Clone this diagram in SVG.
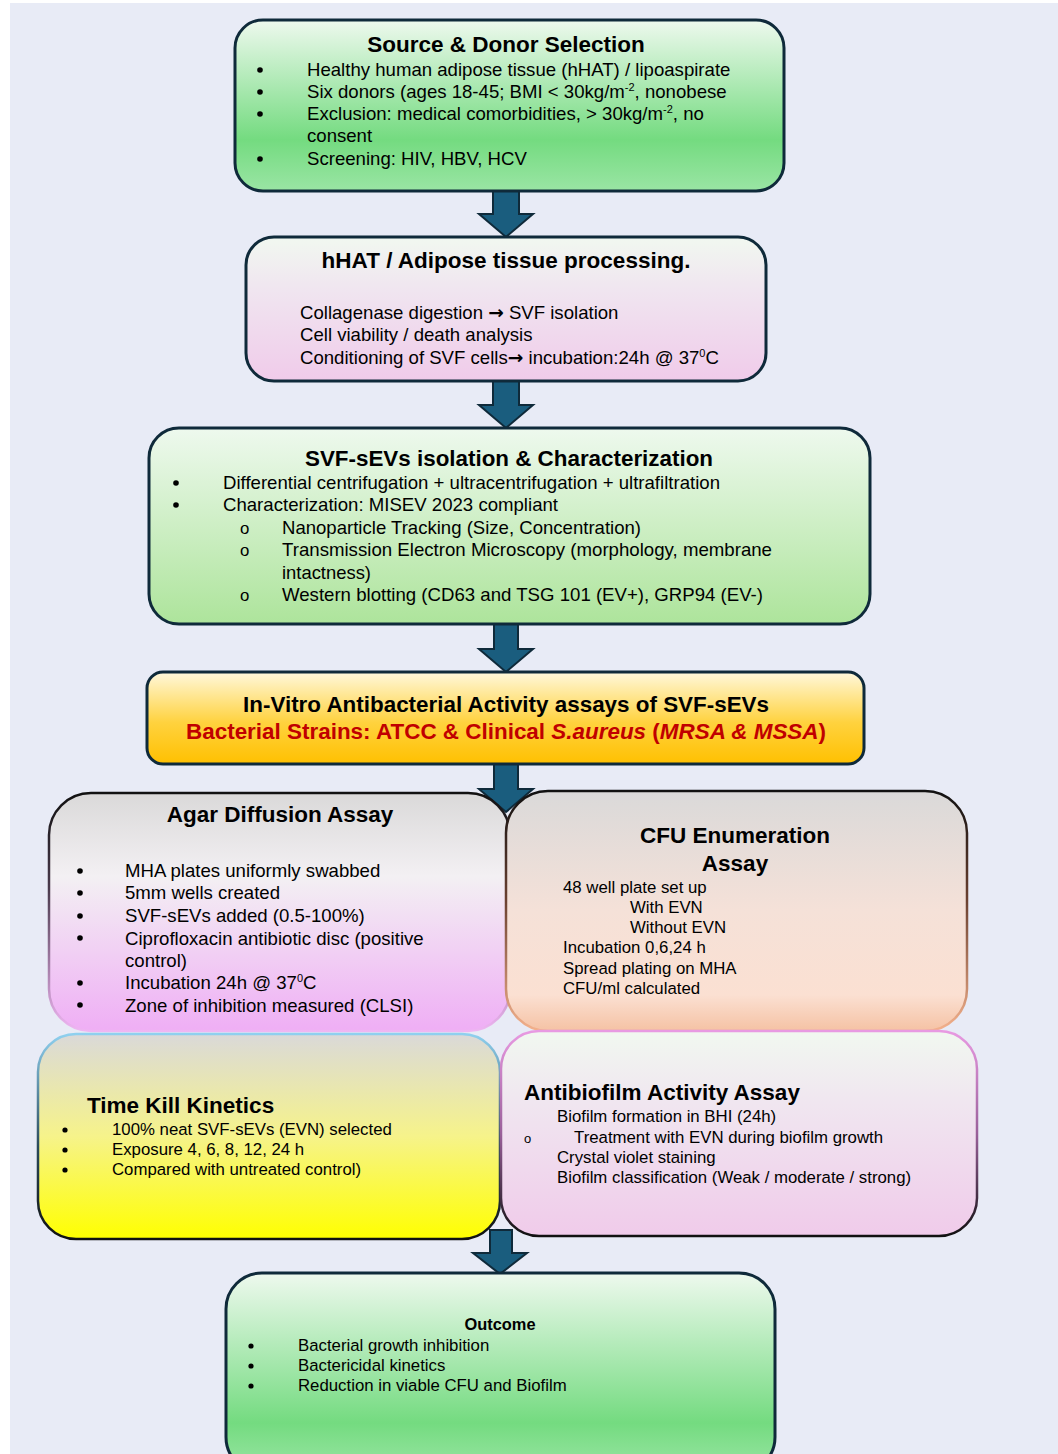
<svg xmlns="http://www.w3.org/2000/svg" width="1058" height="1454" viewBox="0 0 1058 1454">
<style>
text{font-family:"Liberation Sans",Arial,sans-serif;fill:#000}
.t{font-weight:bold;font-size:22.5px}
.b{font-size:18.6px}
.s{font-size:16.8px}
.ar{font-family:"DejaVu Sans",sans-serif;font-weight:bold}
.box{stroke:#0f2a3a;stroke-width:3}
.arr{fill:#1a5d7e;stroke:#0f2a3a;stroke-width:2;stroke-linejoin:miter}
.red{fill:#c00000}
</style>
<defs>
<linearGradient id="gGreen" x1="0" y1="0" x2="0" y2="1">
<stop offset="0" stop-color="#eef9ee"/><stop offset="0.7" stop-color="#74db80"/><stop offset="1" stop-color="#9ae5a4"/>
</linearGradient>
<linearGradient id="gGreen2" x1="0" y1="0" x2="0" y2="1">
<stop offset="0" stop-color="#eef9ee"/><stop offset="1" stop-color="#ade49b"/>
</linearGradient>
<linearGradient id="gGreen3" x1="0" y1="0" x2="0" y2="1">
<stop offset="0" stop-color="#eef9ee"/><stop offset="0.75" stop-color="#74db80"/><stop offset="1" stop-color="#9ae5a4"/>
</linearGradient>
<linearGradient id="gPink" x1="0" y1="0" x2="0" y2="1">
<stop offset="0" stop-color="#f1f8f0"/><stop offset="0.35" stop-color="#f0e6f0"/><stop offset="1" stop-color="#f0cbea"/>
</linearGradient>
<linearGradient id="gGold" x1="0" y1="0" x2="0" y2="1">
<stop offset="0" stop-color="#fff8dc"/><stop offset="0.55" stop-color="#ffd23e"/><stop offset="1" stop-color="#ffc000"/>
</linearGradient>
<linearGradient id="gAgar" x1="0" y1="0" x2="0" y2="1">
<stop offset="0" stop-color="#dad9d9"/><stop offset="0.35" stop-color="#f3f0f3"/><stop offset="1" stop-color="#efaef5"/>
</linearGradient>
<linearGradient id="sAgar" x1="0" y1="0" x2="0" y2="1">
<stop offset="0" stop-color="#111"/><stop offset="0.4" stop-color="#4a3a4c"/><stop offset="1" stop-color="#efb6f3"/>
</linearGradient>
<linearGradient id="gCfu" x1="0" y1="0" x2="0" y2="1">
<stop offset="0" stop-color="#dad9d9"/><stop offset="0.5" stop-color="#f5e1d8"/><stop offset="0.85" stop-color="#fbe0d2"/><stop offset="1" stop-color="#f5c2a4"/>
</linearGradient>
<linearGradient id="sCfu" x1="0" y1="0" x2="0" y2="1">
<stop offset="0" stop-color="#111"/><stop offset="0.45" stop-color="#6a4030"/><stop offset="1" stop-color="#f4b18c"/>
</linearGradient>
<linearGradient id="gKill" x1="0" y1="0" x2="0" y2="1">
<stop offset="0" stop-color="#dad9d9"/><stop offset="0.5" stop-color="#f6f38a"/><stop offset="1" stop-color="#ffff00"/>
</linearGradient>
<linearGradient id="sKill" x1="0" y1="0" x2="0" y2="1">
<stop offset="0" stop-color="#8fd0ef"/><stop offset="0.55" stop-color="#2a4a5a"/><stop offset="1" stop-color="#111"/>
</linearGradient>
<linearGradient id="sBio" x1="0" y1="0" x2="0" y2="1">
<stop offset="0" stop-color="#e89ae2"/><stop offset="0.5" stop-color="#9a609a"/><stop offset="1" stop-color="#111"/>
</linearGradient>
</defs>
<rect x="10" y="3" width="1048" height="1451" fill="#e8ebf6"/>
<g id="connectors">
<path class="arr" d="M493,190 H519 V214 H533 L506,237 L479,214 H493 Z"/>
<path class="arr" d="M493,380 H519 V405 H533 L506,428 L479,405 H493 Z"/>
<path class="arr" d="M494,623 H518 V649 H533 L506,672 L479,649 H494 Z"/>
<path class="arr" d="M494,763 H518 V789 H533 L506,812 L479,789 H494 Z"/>
<path class="arr" d="M490,1230 H512 V1253 H527 L500,1274 L473,1253 H490 Z"/>
</g>
<g id="source">
<rect class="box" x="235" y="20" width="549" height="171" rx="28" fill="url(#gGreen)"/>
<text class="t" x="506" y="52" text-anchor="middle">Source &amp; Donor Selection</text>
<circle cx="260" cy="70" r="2.8"/><circle cx="260" cy="92" r="2.8"/><circle cx="260" cy="114" r="2.8"/><circle cx="260" cy="159" r="2.8"/>
<text class="b" x="307" y="76">Healthy human adipose tissue (hHAT) / lipoaspirate</text>
<text class="b" x="307" y="98">Six donors (ages 18-45; BMI &lt; 30kg/m<tspan font-size="11" dy="-7">-2</tspan><tspan dy="7">, nonobese</tspan></text>
<text class="b" x="307" y="120">Exclusion: medical comorbidities, &gt; 30kg/m<tspan font-size="11" dy="-7">-2</tspan><tspan dy="7">, no</tspan></text>
<text class="b" x="307" y="142">consent</text>
<text class="b" x="307" y="165">Screening: HIV, HBV, HCV</text>
</g>
<g id="processing">
<rect class="box" x="246" y="237" width="520" height="144" rx="28" fill="url(#gPink)"/>
<text class="t" x="506" y="268" text-anchor="middle">hHAT / Adipose tissue processing.</text>
<text class="b" x="300" y="319">Collagenase digestion <tspan class="ar">→</tspan> SVF isolation</text>
<text class="b" x="300" y="341">Cell viability / death analysis</text>
<text class="b" x="300" y="364">Conditioning of SVF cells<tspan class="ar">→</tspan> incubation:24h @ 37<tspan font-size="11" dy="-7">0</tspan><tspan dy="7">C</tspan></text>
</g>
<g id="isolation">
<rect class="box" x="149" y="428" width="721" height="196" rx="30" fill="url(#gGreen2)"/>
<text class="t" x="509" y="466" text-anchor="middle" textLength="408" lengthAdjust="spacingAndGlyphs">SVF-sEVs isolation &amp; Characterization</text>
<circle cx="176" cy="483" r="2.8"/><circle cx="176" cy="505" r="2.8"/>
<text class="b" x="223" y="489" textLength="497" lengthAdjust="spacingAndGlyphs">Differential centrifugation + ultracentrifugation + ultrafiltration</text>
<text class="b" x="223" y="511" textLength="335" lengthAdjust="spacingAndGlyphs">Characterization: MISEV 2023 compliant</text>
<text class="s" x="240" y="534">o</text>
<text class="s" x="240" y="556">o</text>
<text class="s" x="240" y="601">o</text>
<text class="b" x="282" y="534" textLength="359" lengthAdjust="spacingAndGlyphs">Nanoparticle Tracking (Size, Concentration)</text>
<text class="b" x="282" y="556" textLength="490" lengthAdjust="spacingAndGlyphs">Transmission Electron Microscopy (morphology, membrane</text>
<text class="b" x="282" y="579" textLength="89" lengthAdjust="spacingAndGlyphs">intactness)</text>
<text class="b" x="282" y="601" textLength="481" lengthAdjust="spacingAndGlyphs">Western blotting (CD63 and TSG 101 (EV+), GRP94 (EV-)</text>
</g>
<g id="invitro">
<rect class="box" x="147" y="672" width="717" height="92" rx="16" fill="url(#gGold)"/>
<text class="t" x="243" y="712" textLength="526" lengthAdjust="spacingAndGlyphs">In-Vitro Antibacterial Activity assays of SVF-sEVs</text>
<text class="t red" x="186" y="739" textLength="640" lengthAdjust="spacingAndGlyphs">Bacterial Strains: ATCC &amp; Clinical <tspan font-style="italic">S.aureus</tspan> (<tspan font-style="italic">MRSA &amp; MSSA</tspan>)</text>
</g>
<g id="agar">
<rect x="49" y="793" width="461" height="238" rx="42" fill="url(#gAgar)" stroke="url(#sAgar)" stroke-width="2.5"/>
<text class="t" x="280" y="822" text-anchor="middle">Agar Diffusion Assay</text>
<circle cx="80" cy="871" r="2.8"/><circle cx="80" cy="893" r="2.8"/><circle cx="80" cy="916" r="2.8"/><circle cx="80" cy="938" r="2.8"/><circle cx="80" cy="983" r="2.8"/><circle cx="80" cy="1005" r="2.8"/>
<text class="b" x="125" y="877">MHA plates uniformly swabbed</text>
<text class="b" x="125" y="899">5mm wells created</text>
<text class="b" x="125" y="922">SVF-sEVs added (0.5-100%)</text>
<text class="b" x="125" y="945">Ciprofloxacin antibiotic disc (positive</text>
<text class="b" x="125" y="967">control)</text>
<text class="b" x="125" y="989">Incubation 24h @ 37<tspan font-size="11" dy="-7">0</tspan><tspan dy="7">C</tspan></text>
<text class="b" x="125" y="1012">Zone of inhibition measured (CLSI)</text>
</g>
<g id="cfu">
<rect x="506" y="791" width="461" height="240" rx="42" fill="url(#gCfu)" stroke="url(#sCfu)" stroke-width="2.5"/>
<text class="t" x="735" y="843" text-anchor="middle">CFU Enumeration</text>
<text class="t" x="735" y="871" text-anchor="middle">Assay</text>
<text class="s" x="563" y="893">48 well plate set up</text>
<text class="s" x="630" y="913">With EVN</text>
<text class="s" x="630" y="933">Without EVN</text>
<text class="s" x="563" y="953">Incubation 0,6,24 h</text>
<text class="s" x="563" y="974">Spread plating on MHA</text>
<text class="s" x="563" y="994">CFU/ml calculated</text>
</g>
<g id="timekill">
<rect x="38" y="1034" width="462" height="205" rx="38" fill="url(#gKill)" stroke="url(#sKill)" stroke-width="2.5"/>
<text class="t" x="87" y="1113">Time Kill Kinetics</text>
<circle cx="65" cy="1130" r="2.6"/><circle cx="65" cy="1150" r="2.6"/><circle cx="65" cy="1170" r="2.6"/>
<text class="s" x="112" y="1135">100% neat SVF-sEVs (EVN) selected</text>
<text class="s" x="112" y="1155">Exposure 4, 6, 8, 12, 24 h</text>
<text class="s" x="112" y="1175">Compared with untreated control)</text>
</g>
<g id="antibiofilm">
<rect x="501" y="1031" width="476" height="205" rx="38" fill="url(#gPink)" stroke="url(#sBio)" stroke-width="2.5"/>
<text class="t" x="524" y="1100">Antibiofilm Activity Assay</text>
<text class="s" x="557" y="1122">Biofilm formation in BHI (24h)</text>
<text x="524" y="1143" font-size="13">o</text>
<text class="s" x="574" y="1143">Treatment with EVN during biofilm growth</text>
<text class="s" x="557" y="1163">Crystal violet staining</text>
<text class="s" x="557" y="1183">Biofilm classification (Weak / moderate / strong)</text>
</g>
<g id="outcome">
<rect class="box" x="226" y="1273" width="549" height="200" rx="36" fill="url(#gGreen3)"/>
<text x="500" y="1330" text-anchor="middle" font-weight="bold" font-size="16.4">Outcome</text>
<circle cx="251" cy="1346" r="2.6"/><circle cx="251" cy="1366" r="2.6"/><circle cx="251" cy="1386" r="2.6"/>
<text class="s" x="298" y="1351">Bacterial growth inhibition</text>
<text class="s" x="298" y="1371">Bactericidal kinetics</text>
<text class="s" x="298" y="1391">Reduction in viable CFU and Biofilm</text>
</g>
</svg>
